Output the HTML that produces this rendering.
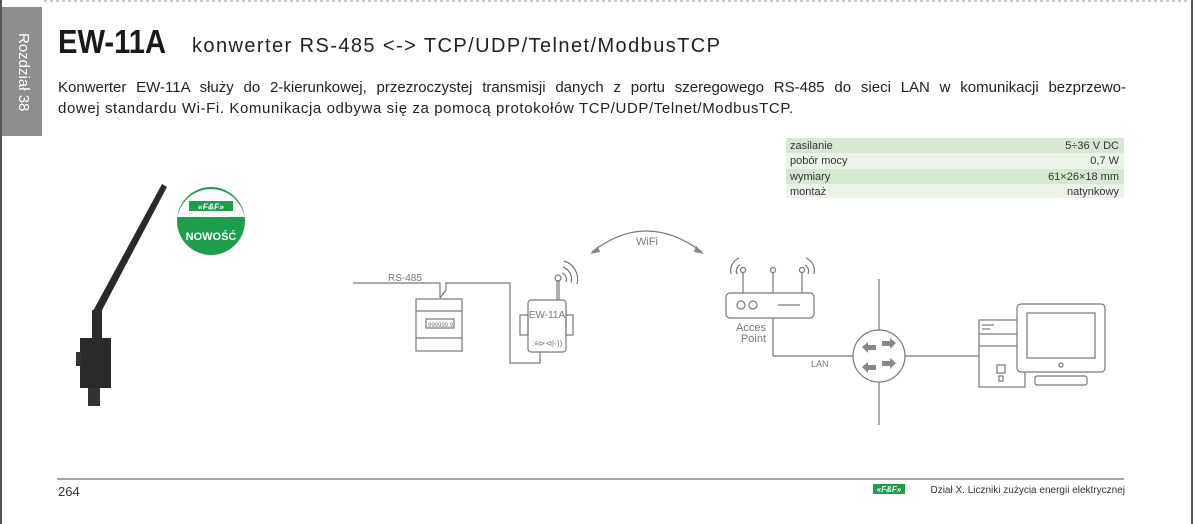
<!DOCTYPE html>
<html><head><meta charset="utf-8"><style>
html,body{margin:0;padding:0;background:#fff}
body{width:1194px;height:524px;position:relative;overflow:hidden;font-family:"Liberation Sans","DejaVu Sans",sans-serif}
.p{position:absolute;left:58px;width:1068px;font-size:15px;color:#222;line-height:21px;text-align:justify;text-align-last:justify;white-space:nowrap}
</style></head><body>
<svg width="1194" height="524" style="position:absolute;left:0;top:0" font-family="Liberation Sans, DejaVu Sans, sans-serif">
<line x1="44" y1="1" x2="1190" y2="1" stroke="#999" stroke-dasharray="3,3"/>
<line x1="1" y1="0" x2="1" y2="524" stroke="#555" stroke-width="2"/>
<line x1="1192" y1="0" x2="1192" y2="524" stroke="#555" stroke-width="2"/>
<rect x="2" y="7" width="40" height="129" fill="#8e8e8e"/>
<text transform="translate(19,33) rotate(90)" fill="#fff" font-size="15">Rozdział 38</text>
<text x="58" y="53" font-size="33" font-weight="bold" fill="#1a1a1a" textLength="108" lengthAdjust="spacingAndGlyphs">EW-11A</text>
<text x="192" y="52" font-size="20" fill="#222" textLength="528">konwerter  RS-485 &lt;-&gt; TCP/UDP/Telnet/ModbusTCP</text>
<!-- table -->
<rect x="786" y="138" width="338" height="15" fill="#d6e8d2"/>
<rect x="786" y="153" width="338" height="16" fill="#ecf4ea"/>
<rect x="786" y="169" width="338" height="15" fill="#d6e8d2"/>
<rect x="786" y="184" width="338" height="14" fill="#ecf4ea"/>
<g font-size="11" fill="#333">
<text x="790" y="149">zasilanie</text><text x="1119" y="149" text-anchor="end">5÷36 V DC</text>
<text x="790" y="164">pobór mocy</text><text x="1119" y="164" text-anchor="end">0,7 W</text>
<text x="790" y="180">wymiary</text><text x="1119" y="180" text-anchor="end">61×26×18 mm</text>
<text x="790" y="195">montaż</text><text x="1119" y="195" text-anchor="end">natynkowy</text>
</g>
<!-- product -->
<polygon points="162,184 167,187 100,314 93,311" fill="#2a2a2a"/>
<rect x="92" y="310" width="10" height="30" fill="#2b2b2b"/>
<rect x="80" y="338" width="31" height="50" fill="#2a2a2a"/>
<rect x="76" y="352" width="5" height="14" fill="#333"/>
<rect x="88" y="388" width="12" height="18" fill="#333"/>
<!-- badge -->
<circle cx="211" cy="221" r="34" fill="#1d9e4a"/>
<path d="M178.5 213 A34 34 0 0 1 243.5 213 L244.8 217 Z" fill="#fff"/>
<path d="M177.2 217 L178.5 213 L244.8 217 Z" fill="#fff"/>
<rect x="189" y="201" width="44" height="10" fill="#1d9e4a"/>
<text x="211" y="209.5" font-size="8.5" font-weight="bold" fill="#fff" text-anchor="middle" font-style="italic">«F&amp;F»</text>
<text x="211" y="240" font-size="11" font-weight="bold" fill="#fff" text-anchor="middle">NOWOŚĆ</text>
<!-- diagram -->
<g stroke="#777" fill="none" stroke-width="1.2">
<polyline points="353,283 440,283 440,298"/>
<polyline points="440,298 446,290 446,283 510,283 510,363 540,363 540,352"/>
<rect x="416" y="299" width="46" height="52"/>
<line x1="416" y1="311" x2="462" y2="311"/><line x1="416" y1="338" x2="462" y2="338"/>
<rect x="426" y="319" width="28" height="9"/>
<rect x="528" y="300" width="38" height="52" rx="3"/>
<rect x="520" y="315" width="8" height="20"/><rect x="566" y="315" width="7" height="20"/>
<line x1="557" y1="300" x2="557" y2="280"/><line x1="559" y1="300" x2="559" y2="280"/>
<circle cx="558" cy="278" r="3"/>
<path d="M562 273 A7 7 0 0 1 566 282"/><path d="M563 267 A13 13 0 0 1 571 283"/><path d="M564 261 A19 19 0 0 1 577 284"/>
<path d="M592 252 Q646 210 702 252"/>
<rect x="726" y="293" width="88" height="25" rx="4"/>
<circle cx="741" cy="305" r="4"/><circle cx="753" cy="305" r="4"/>
<line x1="778" y1="305" x2="800" y2="305"/>
<line x1="743" y1="293" x2="743" y2="272"/><line x1="773" y1="293" x2="773" y2="272"/><line x1="802" y1="293" x2="802" y2="272"/>
<circle cx="743" cy="270" r="2.5"/><circle cx="773" cy="270" r="2.5"/><circle cx="802" cy="270" r="2.5"/>
<path d="M740 265 A7 7 0 0 0 737 274"/><path d="M739 258 A14 14 0 0 0 731 274"/>
<path d="M805 265 A7 7 0 0 1 808 274"/><path d="M806 258 A14 14 0 0 1 814 274"/>
<polyline points="773,318 773,356 853,356"/>
<line x1="879" y1="279" x2="879" y2="425"/>
<line x1="905" y1="356" x2="979" y2="356"/>
<circle cx="879" cy="356" r="26" fill="#fff"/>
<rect x="979" y="320" width="46" height="67"/>
<line x1="979" y1="334" x2="1025" y2="334"/><line x1="979" y1="346" x2="1025" y2="346"/>
<line x1="982" y1="325" x2="994" y2="325"/><line x1="982" y1="329" x2="990" y2="329"/>
<rect x="997" y="365" width="8" height="8"/><rect x="999" y="376" width="4" height="5"/>
<rect x="1017" y="304" width="88" height="68" rx="4" fill="#fff"/>
<rect x="1027" y="313" width="68" height="45"/>
<circle cx="1061" cy="365" r="2"/>
<rect x="1035" y="376" width="52" height="9" rx="2"/>
</g>
<g fill="#888">
<polygon points="862,347 868,342 868,345 876,345 876,350 868,350 868,353"/>
<polygon points="896,343 890,338 890,341 882,341 882,346 890,346 890,349"/>
<polygon points="862,367 868,362 868,365 876,365 876,370 868,370 868,373"/>
<polygon points="896,363 890,358 890,361 882,361 882,366 890,366 890,369"/>
<polygon points="590,254 598,246 600,252"/><polygon points="704,254 696,246 694,252"/>
</g>
<g fill="#777" font-size="10">
<text x="388" y="281">RS-485</text>
<text x="547" y="318" text-anchor="middle">EW-11A</text>
<text x="547" y="346" text-anchor="middle" font-size="8">:≡⊳⊲|◦))</text>
<text x="428" y="327" font-size="6">999999.9</text>
<text x="636" y="245" font-size="11">WiFi</text>
<text x="766" y="331" text-anchor="end" font-size="11">Acces</text>
<text x="766" y="342" text-anchor="end" font-size="11">Point</text>
<text x="811" y="367" font-size="9">LAN</text>
</g>
<line x1="57" y1="479" x2="1124" y2="479" stroke="#888" stroke-width="1.5"/>
<text x="58" y="496" font-size="13" fill="#333">264</text>
<rect x="873" y="484" width="32" height="10" fill="#1d9e4a"/>
<text x="889" y="492" font-size="8" font-weight="bold" fill="#fff" text-anchor="middle" font-style="italic">«F&amp;F»</text>
<text x="1125" y="493" font-size="10" fill="#333" text-anchor="end">Dział X. Liczniki zużycia energii elektrycznej</text>
</svg>
<div class="p" style="top:77px">Konwerter EW-11A służy do 2-kierunkowej, przezroczystej transmisji danych z portu szeregowego RS-485 do sieci LAN w komunikacji bezprzewo-</div>
<div class="p" style="top:98px;text-align:left;text-align-last:left;letter-spacing:0.6px">dowej standardu Wi-Fi. Komunikacja odbywa się za pomocą protokołów TCP/UDP/Telnet/ModbusTCP.</div>
</body></html>
